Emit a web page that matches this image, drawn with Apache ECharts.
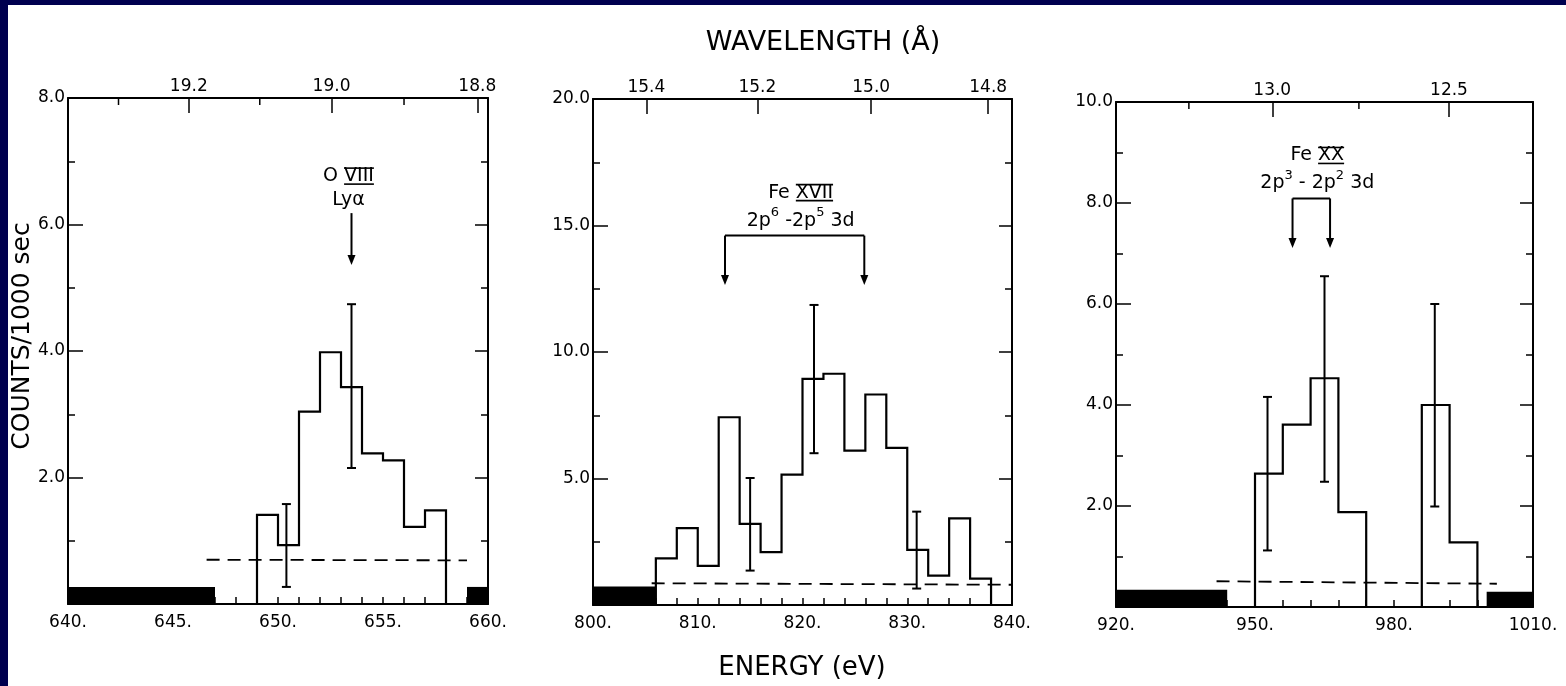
<!DOCTYPE html>
<html>
<head>
<meta charset="utf-8">
<script src="https://cdn.jsdelivr.net/npm/echarts@6/dist/echarts.min.js"></script>
<style>
html,body{margin:0;padding:0;background:#fff;}
#chart{width:1566px;height:686px;}
</style>
</head>
<body>
<div id="chart"></div>
<script>
// ---------- DATA ----------
const HC = 12398.42; // eV * Angstrom, converts energy <-> wavelength

// Panel 1: O VIII
const p1Edges = [649, 650, 651, 652, 653, 654, 655, 656, 657, 658];
const p1Counts = [1.41, 0.93, 3.04, 3.98, 3.43, 2.38, 2.27, 1.22, 1.48];
const p1Errors = [[650.4, 0.27, 1.58], [653.5, 2.15, 4.74]];
const p1Blocked = [[640, 647, 0.27], [659, 660, 0.27]];
const p1Background = [[646.6, 0.70], [659.0, 0.69]];
const p1WaveMajor = [19.2, 19.0, 18.8];
const p1WaveMinor = [19.3, 19.1, 18.9];
const p1LineEnergies = [653.5];
const p1LineLevels = [6.18, 5.36]; // bracket top, arrow tip
const p1Ion = ['O', 'VIII', 'Lyα'];

// Panel 2: Fe XVII
const p2Edges = [806, 808, 810, 812, 814, 816, 818, 820, 822, 824, 826, 828, 830, 832, 834, 836, 838];
const p2Counts = [1.84, 3.04, 1.55, 7.42, 3.21, 2.09, 5.15, 8.94, 9.14, 6.10, 8.32, 6.21, 2.18, 1.16, 3.42, 1.04];
const p2Errors = [[815.0, 1.36, 5.02], [821.1, 6.00, 11.86], [830.9, 0.65, 3.69]];
const p2Blocked = [[800, 806, 0.73]];
const p2Background = [[805.6, 0.86], [840, 0.80]];
const p2WaveMajor = [15.4, 15.2, 15.0, 14.8];
const p2WaveMinor = [];
const p2LineEnergies = [812.6, 825.9];
const p2LineLevels = [14.6, 12.65];
const p2Ion = ['Fe', 'XVII', '2p^6 -2p^5 3d'];

// Panel 3: Fe XX
const p3Edges = [950, 956, 962, 968, 974, 980, 986, 992, 998];
const p3Counts = [2.64, 3.61, 4.53, 1.88, 0, 0, 4.00, 1.28];
const p3Errors = [[952.7, 1.12, 4.16], [965.0, 2.48, 6.55], [988.8, 1.99, 6.00]];
const p3Blocked = [[920, 944, 0.34], [1000, 1010, 0.30]];
const p3Background = [[941.7, 0.51], [1002.2, 0.46]];
const p3WaveMajor = [13.0, 12.5];
const p3WaveMinor = [13.25, 12.75];
const p3LineEnergies = [958.1, 966.2];
const p3LineLevels = [8.09, 7.11];
const p3Ion = ['Fe', 'XX', '2p^3 - 2p^2 3d'];

// Axis ranges / tick labels
const xRanges = [[640, 660, 5], [800, 840, 10], [920, 1010, 30]];
const yRanges = [[0, 8, 2], [0, 20, 5], [0, 10, 2]];
const titleY = 'COUNTS/1000 sec';
const titleTop = 'WAVELENGTH (Å)';
const titleBottom = 'ENERGY (eV)';

// ---------- LAYOUT / STYLE ----------
const FONT = '"DejaVu Sans", "Noto Sans", sans-serif';
const FS = 17;
const AFS = 19;  // annotation font
const SFS = 13;  // superscript font
const grids = [
  {left: 68, top: 98, width: 420, height: 506},
  {left: 593, top: 99, width: 419, height: 506},
  {left: 1116, top: 102, width: 417, height: 505}
];
const ink = '#000';
const lineW = 2;

const measureCtx = document.createElement('canvas').getContext('2d');
function textWidth(s, size) {
  measureCtx.font = size + 'px ' + FONT;
  return measureCtx.measureText(s).width;
}
// split "2p^6 -2p^5 3d" into normal / superscript pieces
function parseSup(s) {
  const out = [];
  let buf = '';
  for (let i = 0; i < s.length; i++) {
    if (s[i] === '^' && i + 1 < s.length) {
      if (buf) { out.push({t: buf, sup: false}); buf = ''; }
      out.push({t: s[i + 1], sup: true});
      i++;
    } else buf += s[i];
  }
  if (buf) out.push({t: buf, sup: false});
  return out;
}

const panels = [
  {edges: p1Edges, counts: p1Counts, errors: p1Errors, blocked: p1Blocked, bg: p1Background,
   waveMajor: p1WaveMajor, waveMinor: p1WaveMinor, lines: p1LineEnergies, levels: p1LineLevels, ion: p1Ion},
  {edges: p2Edges, counts: p2Counts, errors: p2Errors, blocked: p2Blocked, bg: p2Background,
   waveMajor: p2WaveMajor, waveMinor: p2WaveMinor, lines: p2LineEnergies, levels: p2LineLevels, ion: p2Ion},
  {edges: p3Edges, counts: p3Counts, errors: p3Errors, blocked: p3Blocked, bg: p3Background,
   waveMajor: p3WaveMajor, waveMinor: p3WaveMinor, lines: p3LineEnergies, levels: p3LineLevels, ion: p3Ion}
];

function stepPoints(edges, counts) {
  const pts = [[edges[0], 0]];
  counts.forEach((c, i) => { pts.push([edges[i], c]); pts.push([edges[i + 1], c]); });
  pts.push([edges[edges.length - 1], 0]);
  return pts;
}

const xAxes = [], yAxes = [], series = [];
panels.forEach((p, gi) => {
  const [xmin, xmax, xint] = xRanges[gi];
  const [ymin, ymax, yint] = yRanges[gi];
  const xb = xAxes.length;
  // bottom energy axis
  xAxes.push({
    gridIndex: gi, type: 'value', position: 'bottom', min: xmin, max: xmax, interval: xint,
    axisLine: {show: true, onZero: false, lineStyle: {color: ink, width: lineW}},
    axisTick: {show: true, inside: true, length: 7, lineStyle: {color: ink, width: 1.5}},
    minorTick: {show: true, splitNumber: 5, length: 7, lineStyle: {color: ink, width: 1.5}},
    axisLabel: {show: true, color: ink, fontSize: FS, fontFamily: FONT, margin: 10,
      formatter: v => v + '.'},
    splitLine: {show: false}, minorSplitLine: {show: false}
  });
  // top wavelength axis (major ticks + labels)
  const majE = p.waveMajor.map(w => HC / w);
  xAxes.push({
    gridIndex: gi, type: 'value', position: 'top', min: xmin, max: xmax,
    axisLine: {show: true, onZero: false, lineStyle: {color: ink, width: lineW}},
    axisTick: {show: true, inside: true, length: 15, customValues: majE, lineStyle: {color: ink, width: 1.5}},
    axisLabel: {show: true, customValues: majE, color: ink, fontSize: FS, fontFamily: FONT, margin: 3,
      formatter: v => (HC / v).toFixed(1)},
    splitLine: {show: false}
  });
  const yl = yAxes.length;
  yAxes.push({
    gridIndex: gi, type: 'value', position: 'left', min: ymin, max: ymax, interval: yint,
    axisLine: {show: true, onZero: false, lineStyle: {color: ink, width: lineW}},
    axisTick: {show: true, inside: true, length: 15, lineStyle: {color: ink, width: 1.5}},
    minorTick: {show: true, splitNumber: 2, length: 7, lineStyle: {color: ink, width: 1.5}},
    axisLabel: {show: true, color: ink, fontSize: FS, fontFamily: FONT, margin: 3,
      formatter: v => v === 0 ? '' : v.toFixed(1)},
    splitLine: {show: false}
  });
  yAxes.push({
    gridIndex: gi, type: 'value', position: 'right', min: ymin, max: ymax, interval: yint,
    axisLine: {show: true, onZero: false, lineStyle: {color: ink, width: lineW}},
    axisTick: {show: true, inside: true, length: 13, lineStyle: {color: ink, width: 1.5}},
    minorTick: {show: true, splitNumber: 2, length: 7, lineStyle: {color: ink, width: 1.5}},
    axisLabel: {show: false},
    splitLine: {show: false}
  });

  // minor wavelength ticks on the top axis
  series.push({
    type: 'custom', xAxisIndex: xb, yAxisIndex: yl, data: p.waveMinor.map(w => [HC / w]),
    clip: false, silent: true,
    renderItem: (params, api) => {
      const pt = api.coord([api.value(0), yRanges[gi][1]]);
      return {type: 'line', shape: {x1: pt[0], y1: pt[1], x2: pt[0], y2: pt[1] + 7},
        style: {stroke: ink, lineWidth: 1.5}};
    }
  });
  // blocked (black) regions
  series.push({
    type: 'custom', xAxisIndex: xb, yAxisIndex: yl, data: p.blocked, clip: false, silent: true,
    renderItem: (params, api) => {
      const a = api.coord([api.value(0), api.value(2)]);
      const b = api.coord([api.value(1), 0]);
      return {type: 'rect', shape: {x: a[0], y: a[1], width: b[0] - a[0], height: b[1] - a[1]},
        style: {fill: ink}};
    }
  });
  // background dashed line
  series.push({
    type: 'line', xAxisIndex: xb, yAxisIndex: yl, data: p.bg, symbol: 'none', silent: true,
    lineStyle: {color: ink, width: 1.8, type: [13, 8]}
  });
  // histogram
  series.push({
    type: 'line', xAxisIndex: xb, yAxisIndex: yl, data: stepPoints(p.edges, p.counts),
    symbol: 'none', silent: true, clip: false,
    lineStyle: {color: ink, width: 2.2, join: 'miter'}
  });
  // error bars
  series.push({
    type: 'custom', xAxisIndex: xb, yAxisIndex: yl, data: p.errors, clip: false, silent: true,
    renderItem: (params, api) => {
      const lo = api.coord([api.value(0), api.value(1)]);
      const hi = api.coord([api.value(0), api.value(2)]);
      const hw = 4.5, st = {stroke: ink, lineWidth: 2};
      return {type: 'group', children: [
        {type: 'line', shape: {x1: lo[0], y1: lo[1], x2: hi[0], y2: hi[1]}, style: st},
        {type: 'line', shape: {x1: lo[0] - hw, y1: lo[1], x2: lo[0] + hw, y2: lo[1]}, style: st},
        {type: 'line', shape: {x1: hi[0] - hw, y1: hi[1], x2: hi[0] + hw, y2: hi[1]}, style: st}
      ]};
    }
  });
  // line identification annotation
  series.push({
    type: 'custom', xAxisIndex: xb, yAxisIndex: yl, data: [0], clip: false, silent: true,
    renderItem: (params, api) => {
      const st = {stroke: ink, lineWidth: 2};
      const children = [];
      const tops = p.lines.map(e => api.coord([e, p.levels[0]]));
      const tips = p.lines.map(e => api.coord([e, p.levels[1]]));
      if (tops.length > 1) {
        children.push({type: 'line', shape: {x1: tops[0][0], y1: tops[0][1], x2: tops[tops.length - 1][0], y2: tops[0][1]}, style: st});
      }
      tops.forEach((t, i) => {
        const tip = tips[i];
        children.push({type: 'line', shape: {x1: t[0], y1: t[1], x2: tip[0], y2: tip[1] - 9}, style: st});
        children.push({type: 'polygon', shape: {points: [[tip[0] - 4, tip[1] - 10], [tip[0] + 4, tip[1] - 10], [tip[0], tip[1]]]}, style: {fill: ink}});
      });
      const multi = tops.length > 1;
      const cx = (tops[0][0] + tops[tops.length - 1][0]) / 2 + (multi ? 6 : -3);
      const yTop = tops[0][1];
      const y2 = yTop - (multi ? 15 : 13), y1 = yTop - (multi ? 43 : 37);
      const font = AFS + 'px ' + FONT;
      // first line: element + roman numeral ionisation stage with bars
      const ionStr = p.ion[0] + ' ', stage = p.ion[1];
      const w1 = textWidth(ionStr, AFS), w2 = textWidth(stage, AFS);
      const x0 = cx - (w1 + w2) / 2;
      children.push({type: 'text', x: x0, y: y1, style: {text: ionStr + stage, fill: ink, font, textAlign: 'left', textVerticalAlign: 'middle'}});
      children.push({type: 'line', shape: {x1: x0 + w1, y1: y1 - 8, x2: x0 + w1 + w2, y2: y1 - 8}, style: {stroke: ink, lineWidth: 1.6}});
      children.push({type: 'line', shape: {x1: x0 + w1, y1: y1 + 8, x2: x0 + w1 + w2, y2: y1 + 8}, style: {stroke: ink, lineWidth: 1.6}});
      // second line with superscripts
      const parts = parseSup(p.ion[2]);
      const widths = parts.map(q => textWidth(q.t, q.sup ? SFS : AFS));
      const total = widths.reduce((a, b) => a + b, 0);
      let xx = cx - total / 2;
      parts.forEach((q, i) => {
        children.push({type: 'text', x: xx, y: q.sup ? y2 - 8 : y2,
          style: {text: q.t, fill: ink, font: (q.sup ? SFS : AFS) + 'px ' + FONT, textAlign: 'left', textVerticalAlign: 'middle'}});
        xx += widths[i];
      });
      return {type: 'group', children};
    }
  });
});

const chart = echarts.init(document.getElementById('chart'), null, {renderer: 'canvas'});
chart.setOption({
  animation: false,
  backgroundColor: '#fff',
  grid: grids.map(g => Object.assign({outerBoundsMode: 'none', containLabel: false}, g)),
  xAxis: xAxes,
  yAxis: yAxes,
  series: series,
  graphic: [
    {type: 'rect', left: 0, top: 0, shape: {width: 8, height: 686}, style: {fill: '#00004f'}, z: 100},
    {type: 'rect', left: 0, top: 0, shape: {width: 1566, height: 5}, style: {fill: '#00004f'}, z: 100},
    {type: 'text', x: 22, y: 336, rotation: Math.PI / 2, style: {text: titleY, fill: ink, font: '25px ' + FONT, textAlign: 'center', textVerticalAlign: 'middle'}},
    {type: 'text', x: 823, y: 43, style: {text: titleTop, fill: ink, font: '27px ' + FONT, textAlign: 'center', textVerticalAlign: 'middle'}},
    {type: 'text', x: 802, y: 668, style: {text: titleBottom, fill: ink, font: '26px ' + FONT, textAlign: 'center', textVerticalAlign: 'middle'}}
  ]
});
</script>
</body>
</html>
